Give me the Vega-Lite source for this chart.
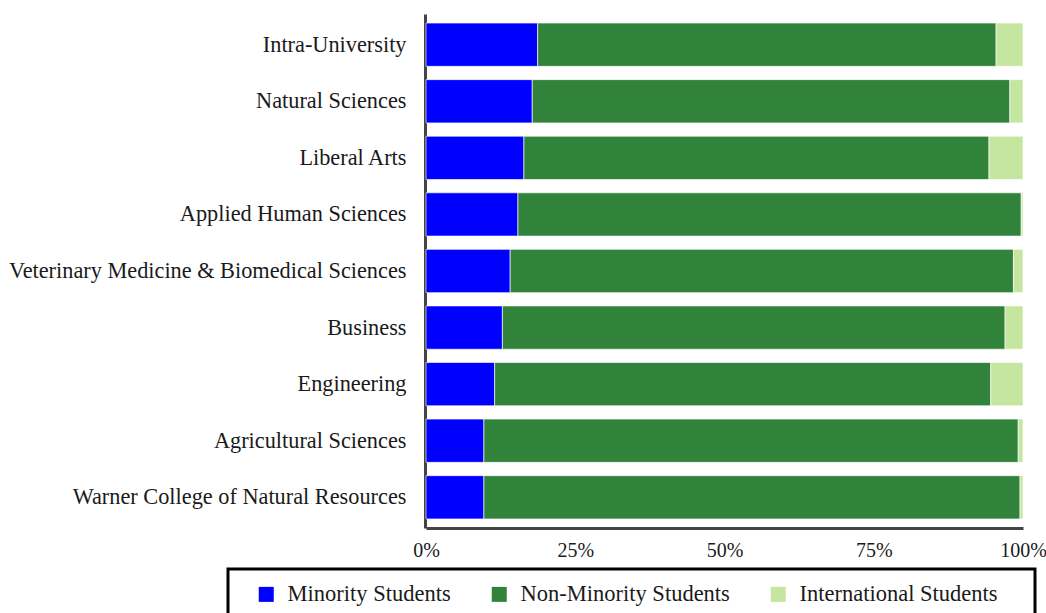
{
  "$schema": "https://vega.github.io/schema/vega-lite/v6.json",
  "width": 597,
  "height": 514,
  "autosize": "none",
  "padding": {"left": 426, "top": 14, "right": 23, "bottom": 85},
  "background": "white",
  "config": {
    "view": {"stroke": null},
    "font": "Liberation Serif",
    "legend": {"strokeWidth": 3}
  },
  "data": {
    "values": [
      {"college": "Intra-University", "group": "Minority Students", "o": 1, "pct": 18.7},
      {"college": "Intra-University", "group": "Non-Minority Students", "o": 2, "pct": 76.8},
      {"college": "Intra-University", "group": "International Students", "o": 3, "pct": 4.5},
      {"college": "Natural Sciences", "group": "Minority Students", "o": 1, "pct": 17.8},
      {"college": "Natural Sciences", "group": "Non-Minority Students", "o": 2, "pct": 80.0},
      {"college": "Natural Sciences", "group": "International Students", "o": 3, "pct": 2.2},
      {"college": "Liberal Arts", "group": "Minority Students", "o": 1, "pct": 16.4},
      {"college": "Liberal Arts", "group": "Non-Minority Students", "o": 2, "pct": 77.9},
      {"college": "Liberal Arts", "group": "International Students", "o": 3, "pct": 5.7},
      {"college": "Applied Human Sciences", "group": "Minority Students", "o": 1, "pct": 15.4},
      {"college": "Applied Human Sciences", "group": "Non-Minority Students", "o": 2, "pct": 84.3},
      {"college": "Applied Human Sciences", "group": "International Students", "o": 3, "pct": 0.3},
      {"college": "Veterinary Medicine & Biomedical Sciences", "group": "Minority Students", "o": 1, "pct": 14.1},
      {"college": "Veterinary Medicine & Biomedical Sciences", "group": "Non-Minority Students", "o": 2, "pct": 84.3},
      {"college": "Veterinary Medicine & Biomedical Sciences", "group": "International Students", "o": 3, "pct": 1.6},
      {"college": "Business", "group": "Minority Students", "o": 1, "pct": 12.8},
      {"college": "Business", "group": "Non-Minority Students", "o": 2, "pct": 84.2},
      {"college": "Business", "group": "International Students", "o": 3, "pct": 3.0},
      {"college": "Engineering", "group": "Minority Students", "o": 1, "pct": 11.5},
      {"college": "Engineering", "group": "Non-Minority Students", "o": 2, "pct": 83.1},
      {"college": "Engineering", "group": "International Students", "o": 3, "pct": 5.4},
      {"college": "Agricultural Sciences", "group": "Minority Students", "o": 1, "pct": 9.7},
      {"college": "Agricultural Sciences", "group": "Non-Minority Students", "o": 2, "pct": 89.5},
      {"college": "Agricultural Sciences", "group": "International Students", "o": 3, "pct": 0.8},
      {"college": "Warner College of Natural Resources", "group": "Minority Students", "o": 1, "pct": 9.7},
      {"college": "Warner College of Natural Resources", "group": "Non-Minority Students", "o": 2, "pct": 89.8},
      {"college": "Warner College of Natural Resources", "group": "International Students", "o": 3, "pct": 0.5}
    ]
  },
  "mark": {"type": "bar", "stroke": "white", "strokeWidth": 0.8, "strokeOpacity": 0.8},
  "encoding": {
    "y": {
      "field": "college",
      "type": "nominal",
      "sort": ["Intra-University", "Natural Sciences", "Liberal Arts", "Applied Human Sciences", "Veterinary Medicine & Biomedical Sciences", "Business", "Engineering", "Agricultural Sciences", "Warner College of Natural Resources"],
      "scale": {"paddingInner": 0.235, "paddingOuter": 0.16},
      "axis": {
        "title": null,
        "ticks": false,
        "domainColor": "#444444",
        "domainWidth": 3,
        "labelFont": "Liberation Serif",
        "labelFontSize": 22.3,
        "labelColor": "#1a1a1a",
        "labelPadding": 19,
        "labelLimit": 500,
        "offset": 1
      }
    },
    "x": {
      "field": "pct",
      "type": "quantitative",
      "stack": "normalize",
      "scale": {"domain": [0, 1], "nice": false},
      "axis": {
        "title": null,
        "values": [0, 0.25, 0.5, 0.75, 1],
        "format": ".0%",
        "grid": false,
        "ticks": false,
        "domainColor": "#444444",
        "domainWidth": 3,
        "labelFont": "Liberation Serif",
        "labelFontSize": 20,
        "labelColor": "#1a1a1a",
        "labelPadding": 12,
        "labelFlush": false
      }
    },
    "order": {"field": "o", "type": "quantitative"},
    "color": {
      "field": "group",
      "type": "nominal",
      "scale": {
        "domain": ["Minority Students", "Non-Minority Students", "International Students"],
        "range": ["#0000ff", "#31823a", "#c5e69e"]
      },
      "legend": {
        "orient": "none",
        "legendX": -198,
        "legendY": 555,
        "direction": "horizontal",
        "title": "\u00a0",
        "titleOrient": "right",
        "titleFontSize": 22,
        "titlePadding": 23,
        "strokeColor": "#000000",
        "padding": 14,
        "symbolType": "square",
        "symbolSize": 225,
        "symbolStrokeWidth": 0,
        "symbolOpacity": 1,
        "symbolOffset": 13,
        "labelOffset": 10,
        "columnPadding": 24,
        "labelFont": "Liberation Serif",
        "labelFontSize": 22.5,
        "labelColor": "#1a1a1a",
        "labelLimit": 400
      }
    }
  }
}
